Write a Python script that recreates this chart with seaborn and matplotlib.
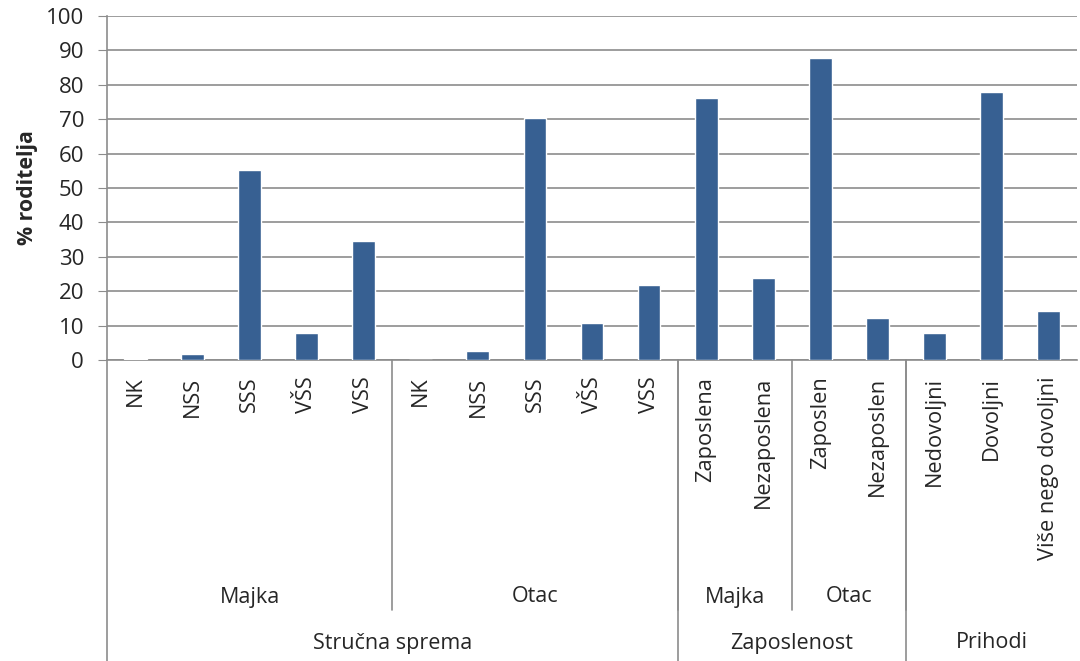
import matplotlib
matplotlib.use("Agg")
import matplotlib.pyplot as plt
import matplotlib.transforms as mtransforms
import pandas as pd
import seaborn as sns

# Podaci
kategorije = ["NK", "NSS", "SSS", "VŠS", "VSS",
              "NK", "NSS", "SSS", "VŠS", "VSS",
              "Zaposlena", "Nezaposlena", "Zaposlen", "Nezaposlen",
              "Nedovoljni", "Dovoljni", "Više nego dovoljni"]
vrijednosti = [0.3, 1.7, 55.1, 7.8, 34.7,
               0.0, 2.6, 70.4, 10.9, 21.9,
               76.2, 23.8, 87.7, 12.3,
               7.8, 77.9, 14.2]
# druga razina (naziv, broj kategorija)
razina2 = [("Majka", 5), ("Otac", 5), ("Majka", 2), ("Otac", 2), ("", 3)]
# treća razina
razina3 = [("Stručna sprema", 10), ("Zaposlenost", 4), ("Prihodi", 3)]

df = pd.DataFrame({"kljuc": [f"{i}_{k}" for i, k in enumerate(kategorije)],
                   "vrijednost": vrijednosti})

sns.set_style("white")
plt.rcParams["font.family"] = ["Open Sans", "DejaVu Sans"]

fig = plt.figure(figsize=(10.8, 6.61), dpi=100)
ax = fig.add_axes([107 / 1080, 1 - 360 / 661, 970 / 1080, 344 / 661])

sns.barplot(data=df, x="kljuc", y="vrijednost", order=df["kljuc"],
            color="#376092", saturation=1, width=0.4, ax=ax, zorder=3)

ax.set_ylim(0, 100)
ax.set_xlim(-0.5, len(kategorije) - 0.5)
ax.set_yticks(range(0, 101, 10))
ax.yaxis.grid(True, color="#8c8c8c", linewidth=1.2, zorder=0)
ax.set_axisbelow(True)
for s in ["top", "right"]:
    ax.spines[s].set_visible(False)
for s in ["left", "bottom"]:
    ax.spines[s].set_color("#8c8c8c")
    ax.spines[s].set_linewidth(1.2)
ax.tick_params(axis="y", left=True, length=6.5, color="#8c8c8c", labelsize=16, pad=10)
ax.tick_params(axis="x", bottom=False, length=0, pad=12)
ax.set_xticks(range(len(kategorije)))
ax.set_xticklabels(kategorije, rotation=90, fontsize=15.7, va="top", ha="center")
ax.set_xlabel("")
ax.set_ylabel("% roditelja", fontsize=15.3, fontweight="bold")
ax.yaxis.set_label_coords((38 - 107) / 970, 0.5)

trans = mtransforms.blended_transform_factory(ax.transData, ax.transAxes)
y0 = 0.0
y_r1 = -250 / 344   # kraj linija druge razine
y_r2 = -301 / 344   # kraj linija treće razine
lin = dict(color="#8c8c8c", linewidth=1.2, transform=trans, clip_on=False)

# lijevi rub
ax.plot([-0.5, -0.5], [y0, y_r2], **lin)

poz = -0.5
for naziv, n in razina2:
    if naziv:
        ax.text(poz + n / 2, -237 / 344, naziv, transform=trans,
                ha="center", va="center", fontsize=15.5)
    poz += n
    if poz < len(kategorije) - 0.5:
        ax.plot([poz, poz], [y0, y_r1], **lin)

poz = -0.5
for naziv, n in razina3:
    ax.text(poz + n / 2, -283 / 344, naziv, transform=trans,
            ha="center", va="center", fontsize=15.5)
    poz += n
    if poz < len(kategorije) - 0.5:
        ax.plot([poz, poz], [y0, y_r2], **lin)

fig.savefig("out.png", dpi=100)
